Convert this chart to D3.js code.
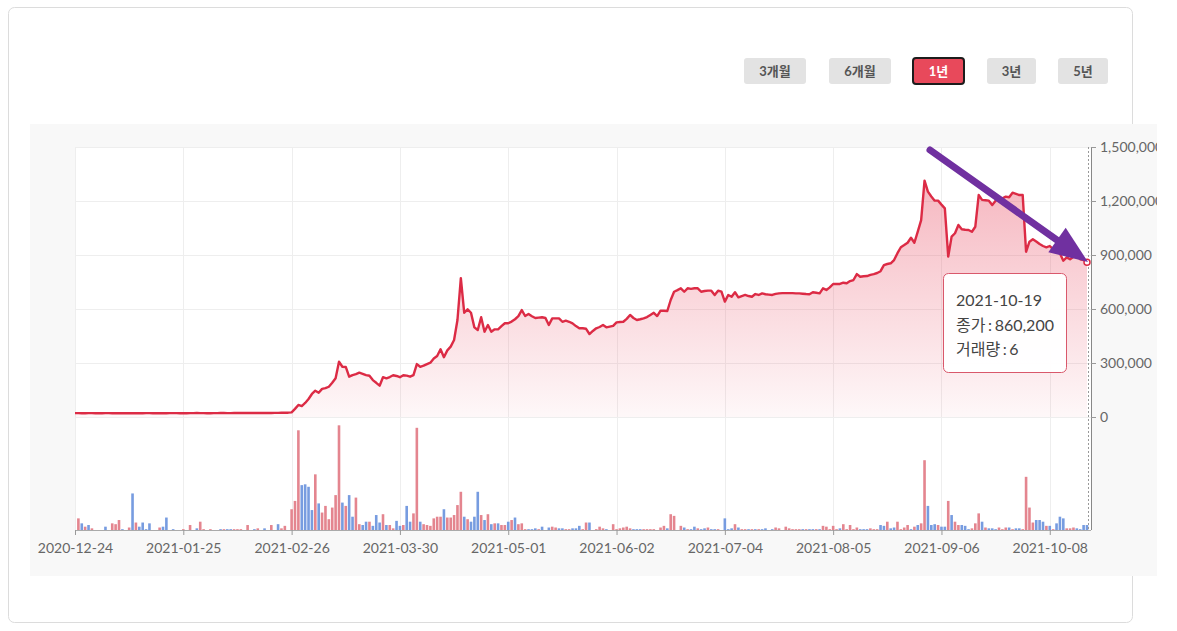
<!DOCTYPE html>
<html>
<head>
<meta charset="utf-8">
<script src="https://cdn.jsdelivr.net/npm/d3@7"></script>
<style>
  html, body { margin: 0; padding: 0; background: #fff; }
  svg { display: block; font-family: Lato, "Noto Sans CJK KR", sans-serif; }
</style>
</head>
<body>
<svg id="chart" width="1177" height="631"></svg>
<script>
// ---------------- DATA ----------------
const startDate = "2020-12-24";   // one row per calendar day
const endDate = "2021-10-19";

const closePrices = [
  21500,21500,21000,21000,21500,21500,21000,21000,21000,21500,
  21500,21000,21000,21000,21500,21000,20500,21000,21000,21000,
  21000,21500,21500,21000,21000,21000,20500,21000,21500,21500,
  21500,21000,21000,21000,21500,21500,22000,21500,21500,21000,
  21000,21500,21500,22000,22000,21500,21500,22000,22000,22000,
  22000,22500,22000,22000,22500,22500,23000,22500,22500,23000,
  23000,23500,23500,24000,26000,45000,67000,61000,78000,100000,
  128000,146000,135000,156000,160000,168000,190000,215000,307000,279000,
  278000,224000,233000,238000,246000,240000,233000,229000,205000,190000,
  174000,221000,215000,222000,232000,228000,221000,232000,230000,224000,
  233000,294000,279000,285000,294000,302000,325000,339000,376000,332000,
  370000,391000,428000,539000,771000,579000,598000,579000,498000,483000,
  554000,474000,511000,474000,487000,487000,505000,521000,521000,530000,
  543000,560000,594000,561000,572000,560000,550000,552000,554000,550000,
  511000,548000,548000,548000,529000,535000,529000,520000,505000,493000,
  493000,490000,461000,478000,493000,500000,511000,498000,502000,506000,
  526000,528000,529000,545000,567000,550000,539000,543000,548000,555000,
  567000,579000,561000,591000,590000,589000,650000,696000,705000,715000,
  696000,715000,712000,715000,715000,696000,700000,702000,702000,678000,
  702000,696000,641000,678000,668000,693000,665000,672000,678000,672000,
  668000,683000,678000,687000,682000,680000,678000,684000,687000,688000,
  688000,688000,688000,687000,687000,685000,683000,682000,693000,690000,
  687000,715000,706000,720000,739000,739000,739000,746000,743000,755000,
  761000,794000,779000,782000,783000,790000,794000,800000,810000,844000,
  850000,854000,872000,910000,943000,955000,968000,996000,968000,1030000,
  1094000,1313000,1252000,1225000,1202000,1202000,1180000,1159000,891000,1002000,
  1021000,1067000,1043000,1040000,1039000,1029000,1057000,1233000,1206000,1204000,
  1202000,1178000,1202000,1209000,1215000,1224000,1221000,1246000,1240000,1233000,
  1233000,918000,974000,987000,975000,961000,950000,943000,950000,932000,
  920000,909000,868000,887000,876000,890000,900000,876000,872000,860200
];

const volumes = [
  0,14,8,4,6,2,0,0,0,4,
  0,8,7,12,1,0,3,44,9,4,
  9,1,8,0,0,3,4,15,0,1,
  0,0,1,0,6,0,2,10,1,0,
  1,0,0,1,1,1,1,1,1,1,
  0,6,0,1,2,0,2,0,6,0,
  7,2,5,0,25,35,120,54,55,52,
  24,67,32,21,29,13,27,42,126,33,
  29,42,16,39,7,6,10,10,5,18,
  9,19,6,6,2,11,5,6,29,10,
  20,123,10,7,6,5,14,16,16,25,
  15,15,18,30,46,16,13,10,16,46,
  18,12,19,7,8,8,6,6,10,12,
  15,7,8,1,1,1,2,1,4,0,
  3,4,3,2,2,1,1,2,2,5,
  1,9,9,0,1,4,2,1,0,7,
  1,2,3,4,2,1,1,1,1,1,
  1,1,0,3,5,2,19,17,0,5,
  3,1,1,4,2,1,2,3,1,1,
  1,0,14,1,2,7,3,1,1,1,
  1,1,1,1,2,0,1,3,2,0,
  4,2,1,1,1,1,1,1,1,1,
  1,5,4,1,5,1,2,7,1,6,
  1,3,1,1,1,2,1,1,6,5,
  10,2,3,10,1,3,6,1,4,6,
  8,84,29,6,7,6,4,4,35,18,
  10,6,6,5,1,2,8,20,10,3,
  2,2,1,3,1,3,3,1,2,2,
  1,64,27,9,12,12,10,5,5,1,
  8,16,14,2,2,3,2,1,6,6
];

// r = up (red), b = down (blue)
const volumeDirs = (
  "rrbrbrrrrb" + "rrrrbrrbrb" + "bbbrrrbbrb" + "rrrrrrbrrr" + "rrrbrbbrrr" +
  "rrrbrrbrrr" + "brrrrrrbbb" + "brbrrrrrrb" + "rbbrrbbrbb" + "brbrrbbrbb" +
  "rrbrrrrrrb" + "rrrrrbrbbb" + "rbrbrbrrbr" + "brrrbbbrbr" + "brrbbrrbbb" +
  "rrbrrrrbrr" + "rrrrrbbbrr" + "rrrrrbrrrr" + "brbbrbbrbb" + "rrbbbrbrrb" +
  "rbrbbrbrrr" + "rrrrrbrbbr" + "brrrrrbrrr" + "rrbbbrrrbb" + "rbbrrrrbrb" +
  "rrbbbrbbrb" + "rrbbbrrrbr" + "bbbrrrbrbb" + "rrrrbbbrbr" + "bbbrrrbbbb"
).split("");

const priceTicks = [0, 300000, 600000, 900000, 1200000, 1500000];
const dateTickLabels = ["2020-12-24","2021-01-25","2021-02-26","2021-03-30","2021-05-01",
                        "2021-06-02","2021-07-04","2021-08-05","2021-09-06","2021-10-08"];
const periodButtons = ["3개월", "6개월", "1년", "3년", "5년"];
const activeButton = "1년";
const tooltipLabels = { date: "2021-10-19", price: "종가", volume: "거래량" };

// ---------------- CHART ----------------
const parse = d3.timeParse("%Y-%m-%d");
const dates = d3.timeDay.range(parse(startDate), d3.timeDay.offset(parse(endDate), 1));
const rows = dates.map((d, i) => ({ date: d, close: closePrices[i], vol: volumes[i], dir: volumeDirs[i] }));

const svg = d3.select("#chart");
const L = 75, R = 1091, T = 147, MID = 417, B = 530;

const x = d3.scaleTime().domain([dates[0], dates[dates.length - 1]]).range([L, 1087]);
const y = d3.scaleLinear().domain([0, 1500000]).range([MID, T]);
const yv = d3.scaleLinear().domain([0, 136]).range([B, MID]);

const defs = svg.append("defs");
const grad = defs.append("linearGradient").attr("id", "areaGrad")
  .attr("gradientUnits", "userSpaceOnUse").attr("x1", 0).attr("x2", 0).attr("y1", T).attr("y2", MID);
grad.append("stop").attr("offset", 0).attr("stop-color", "#e8485f").attr("stop-opacity", 0.44);
grad.append("stop").attr("offset", 1).attr("stop-color", "#e8485f").attr("stop-opacity", 0.04);
defs.append("clipPath").attr("id", "panelClip").append("rect")
  .attr("x", 30).attr("y", 124).attr("width", 1127).attr("height", 452);

// card
svg.append("rect").attr("x", 8.5).attr("y", 7.5).attr("width", 1124).attr("height", 615)
  .attr("rx", 6).attr("fill", "#fff").attr("stroke", "#dcdcdc");

// buttons
const btnGeom = [[744, 62], [829, 62], [913, 51], [987, 49], [1058, 50]];
const bg = svg.append("g");
periodButtons.forEach((lab, i) => {
  const active = lab === activeButton;
  const g = bg.append("g");
  g.append("rect").attr("x", btnGeom[i][0]).attr("y", 58).attr("width", btnGeom[i][1]).attr("height", 26)
    .attr("rx", 3).attr("fill", active ? "#e8495b" : "#e3e3e3")
    .attr("stroke", active ? "#1c1c1c" : "none").attr("stroke-width", 2);
  g.append("text").attr("x", btnGeom[i][0] + btnGeom[i][1] / 2).attr("y", 76)
    .attr("text-anchor", "middle").attr("font-size", 13).attr("font-weight", 700)
    .attr("fill", active ? "#fff" : "#555").text(lab);
});

// panel
const panel = svg.append("g").attr("clip-path", "url(#panelClip)");
panel.append("rect").attr("x", 30).attr("y", 124).attr("width", 1127).attr("height", 452).attr("fill", "#f8f8f8");
panel.append("rect").attr("x", L).attr("y", T).attr("width", R - L).attr("height", B - T).attr("fill", "#fff");

const tickDates = dateTickLabels.map(parse);

// grid
panel.append("g").selectAll("line").data(priceTicks).join("line")
  .attr("x1", L).attr("x2", R).attr("y1", d => y(d) + 0.5).attr("y2", d => y(d) + 0.5)
  .attr("stroke", "#eeeeee");
panel.append("g").selectAll("line").data(tickDates).join("line")
  .attr("x1", d => Math.round(x(d)) + 0.5).attr("x2", d => Math.round(x(d)) + 0.5)
  .attr("y1", T).attr("y2", B).attr("stroke", "#eeeeee");

// area + line
const area = d3.area().x(d => x(d.date)).y0(MID).y1(d => y(d.close));
const line = d3.line().x(d => x(d.date)).y(d => y(d.close));
panel.append("path").datum(rows).attr("d", area).attr("fill", "url(#areaGrad)");
panel.append("path").datum(rows).attr("d", line).attr("fill", "none")
  .attr("stroke", "#dc2b45").attr("stroke-width", 2.4).attr("stroke-linejoin", "round");

// volume bars
panel.append("g").selectAll("rect").data(rows.filter(d => d.vol > 0)).join("rect")
  .attr("x", d => x(d.date) - 1.3).attr("width", 2.6)
  .attr("y", d => yv(d.vol)).attr("height", d => B - yv(d.vol))
  .attr("fill", d => d.dir === "r" ? "#e4858f" : "#779ce0");

// x axis
const xAxis = d3.axisBottom(x).tickValues(tickDates).tickFormat(d3.timeFormat("%Y-%m-%d"))
  .tickSize(5).tickSizeOuter(0);
const gx = panel.append("g").attr("transform", `translate(0,${B})`).call(xAxis);
gx.select(".domain").attr("d", `M${L},0.5H${R}`).attr("stroke", "#aaa");
gx.selectAll(".tick line").attr("stroke", "#999");
gx.selectAll(".tick text").attr("font-family", "Lato").attr("font-size", 14).attr("fill", "#666").attr("dy", "1.05em");

// y axis (right)
const yAxis = d3.axisRight(y).tickValues(priceTicks).tickFormat(d3.format(",")).tickSize(5).tickSizeOuter(0);
const gy = panel.append("g").attr("transform", `translate(${R},0)`).call(yAxis);
gy.select(".domain").attr("d", `M0.5,${T}V${B}`).attr("stroke", "#888");
gy.selectAll(".tick line").attr("stroke", "#999");
gy.selectAll(".tick text").attr("font-family", "Lato").attr("font-size", 14).attr("fill", "#666").attr("x", 9);

// crosshair + marker at last point
const last = rows[rows.length - 1];
panel.append("line").attr("x1", 1088.5).attr("x2", 1088.5).attr("y1", T).attr("y2", B)
  .attr("stroke", "#999").attr("stroke-dasharray", "2,2");
panel.append("circle").attr("cx", x(last.date)).attr("cy", y(last.close)).attr("r", 3)
  .attr("fill", "#fff").attr("stroke", "#dc2b45").attr("stroke-width", 1.5);

// tooltip
const tip = svg.append("g");
tip.append("rect").attr("x", 943.5).attr("y", 273.5).attr("width", 123).attr("height", 99)
  .attr("rx", 5).attr("fill", "#fff").attr("fill-opacity", 0.96).attr("stroke", "#d9586b");
const tipLines = [
  tooltipLabels.date,
  `${tooltipLabels.price} : ${d3.format(",")(last.close)}`,
  `${tooltipLabels.volume} : ${last.vol}`
];
tip.selectAll("text").data(tipLines).join("text")
  .attr("x", 956).attr("y", (d, i) => 306 + i * 24.5)
  .attr("font-size", 16).attr("fill", "#444").attr("word-spacing", -1.5).text(d => d);

// purple annotation arrow
const a0 = [930, 150], tipPt = [1088, 262];
const dx = tipPt[0] - a0[0], dy = tipPt[1] - a0[1], len = Math.hypot(dx, dy);
const ux = dx / len, uy = dy / len, nx = -uy, ny = ux;
const headL = 38, headW = 15;
const bx = tipPt[0] - headL * ux, by = tipPt[1] - headL * uy;
svg.append("line").attr("x1", a0[0]).attr("y1", a0[1]).attr("x2", bx + 4 * ux).attr("y2", by + 4 * uy)
  .attr("stroke", "#7030a0").attr("stroke-width", 7).attr("stroke-linecap", "round");
svg.append("path")
  .attr("d", `M${tipPt[0]},${tipPt[1]}L${bx + headW * nx},${by + headW * ny}L${bx - headW * nx},${by - headW * ny}Z`)
  .attr("fill", "#7030a0");
</script>
</body>
</html>
